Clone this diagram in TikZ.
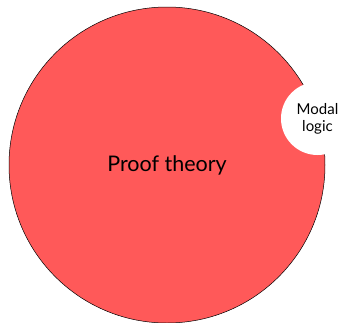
\documentclass[tikz,border=0pt]{standalone}
\usepackage{fontspec}
\setmainfont{Lato}
\begin{document}
\begin{tikzpicture}[x=1pt,y=-1pt,
  bigset/.style={circle, draw=black, line width=0.5pt, fill=red!65, inner sep=0pt, minimum size=316pt, font=\fontsize{21.5}{25}\selectfont},
  smallset/.style={circle, fill=white, inner sep=0pt, minimum size=73pt, align=center, font=\fontsize{15}{17}\selectfont}]
  \useasboundingbox (0,0) rectangle (346,322);
  \node[bigset] (proof) at (167,165) {Proof theory};
  \node[smallset] (modal) at (317.5,118.5) {Modal\\logic};
\end{tikzpicture}
\end{document}
